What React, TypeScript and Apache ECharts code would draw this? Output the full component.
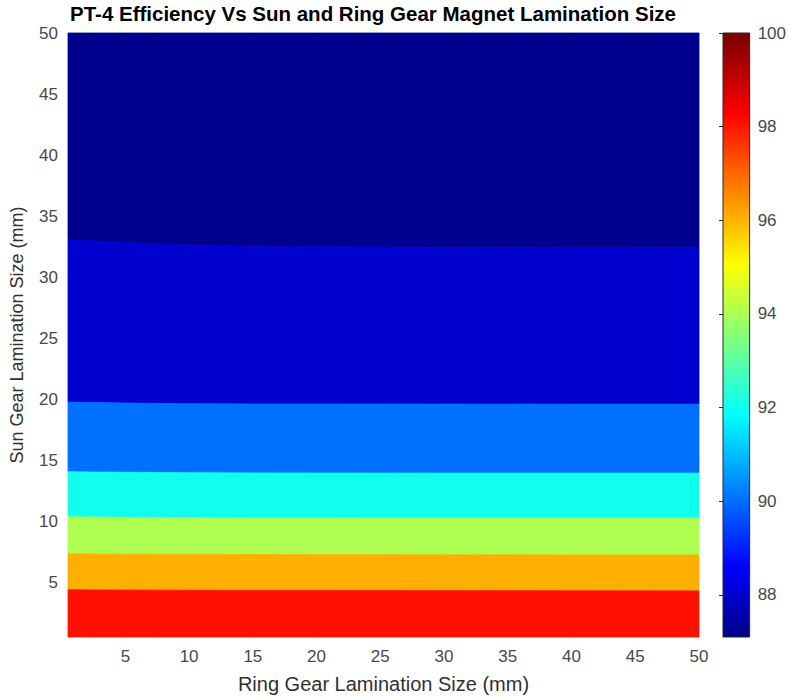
import { useEffect, useRef } from 'react';
import * as echarts from 'echarts';

// Ring gear lamination size (mm) at which each contour line is sampled
const ringSizes = [0.5, 2.5, 5, 7.5, 10, 15, 20, 30, 40, 50];
// Efficiency contour levels (%)
const contourLevels = [88, 90, 92, 94, 96, 98];
// Sun gear lamination size (mm) where each contour level is crossed
const sunAt88 = [33.05, 32.95, 32.82, 32.7, 32.62, 32.53, 32.48, 32.44, 32.42, 32.4];
const sunAt90 = [19.75, 19.71, 19.67, 19.64, 19.62, 19.6, 19.6, 19.59, 19.58, 19.58];
const sunAt92 = [14.05, 14.02, 14.0, 13.98, 13.96, 13.95, 13.94, 13.93, 13.93, 13.93];
const sunAt94 = [10.35, 10.33, 10.31, 10.3, 10.29, 10.28, 10.27, 10.26, 10.25, 10.25];
const sunAt96 = [7.32, 7.3, 7.29, 7.28, 7.27, 7.26, 7.25, 7.24, 7.23, 7.22];
const sunAt98 = [4.38, 4.36, 4.35, 4.34, 4.33, 4.32, 4.31, 4.3, 4.29, 4.28];
const contourLines = [sunAt88, sunAt90, sunAt92, sunAt94, sunAt96, sunAt98];

// Data extents
const ringRange = [0.5, 50];
const sunRange = [0.5, 50];
const efficiencyRange = [87.1, 100];

// Tick labels
const sizeTicks = [5, 10, 15, 20, 25, 30, 35, 40, 45, 50];
const colorbarTicks = [88, 90, 92, 94, 96, 98, 100];

const FONT = '"Liberation Sans", Arial, Helvetica, sans-serif';

// MATLAB jet(64) colormap row (1-based)
function jetRow(i: number): [number, number, number] {
  const u = (j: number) => {
    if (j < 1 || j > 47) return 0;
    if (j <= 16) return j / 16;
    if (j <= 31) return 1;
    return (48 - j) / 16;
  };
  return [u(i - 24), u(i - 8), u(i + 8)];
}

function toHex(rgb: [number, number, number]): string {
  return '#' + rgb.map((c) => Math.round(c * 255).toString(16).padStart(2, '0')).join('');
}

// Scaled colour lookup as contourf does it
function jetColor(value: number): string {
  const [lo, hi] = efficiencyRange;
  let idx = Math.floor(((value - lo) / (hi - lo)) * 64) + 1;
  idx = Math.max(1, Math.min(64, idx));
  return toHex(jetRow(idx));
}

export default function App() {
  const ref = useRef<HTMLDivElement>(null);

  useEffect(() => {
    if (!ref.current) return;
    const chart = echarts.init(ref.current, undefined, { renderer: 'svg' });

    const bandCount = contourLevels.length + 1;
    const bandData = Array.from({ length: bandCount }, (_, k) => [k]);

    const colorStops = [];
    for (let i = 64; i >= 1; i--) {
      colorStops.push({ offset: (64 - i + 0.5) / 64, color: toHex(jetRow(i)) });
    }

    const option = {
      animation: false,
      backgroundColor: '#ffffff',
      graphic: [
        {
          type: 'text',
          x: 373,
          y: 13,
          style: {
            text: 'PT-4 Efficiency Vs Sun and Ring Gear Magnet Lamination Size',
            font: `bold 20.5px ${FONT}`,
            fill: '#000000',
            textAlign: 'center',
            textVerticalAlign: 'middle',
            align: 'center',
            verticalAlign: 'middle',
          },
        },
      ],
      grid: [
        { left: 67, top: 33, width: 632, height: 604 },
        { left: 723, top: 33, width: 30, height: 604 },
      ],
      xAxis: [
        {
          type: 'value',
          gridIndex: 0,
          min: ringRange[0],
          max: ringRange[1],
          axisLine: { show: false },
          axisTick: { show: false },
          splitLine: { show: false },
          axisLabel: {
            customValues: sizeTicks,
            margin: 11,
            fontSize: 17,
            fontFamily: FONT,
            color: '#484848',
          },
          name: 'Ring Gear Lamination Size (mm)',
          nameLocation: 'middle',
          nameGap: 37,
          nameTextStyle: { fontSize: 20, fontFamily: FONT, color: '#303030' },
        },
        {
          type: 'value',
          gridIndex: 1,
          min: 0,
          max: 1,
          show: false,
        },
      ],
      yAxis: [
        {
          type: 'value',
          gridIndex: 0,
          min: sunRange[0],
          max: sunRange[1],
          axisLine: { show: false },
          axisTick: { show: false },
          splitLine: { show: false },
          axisLabel: {
            customValues: sizeTicks,
            margin: 10,
            fontSize: 17,
            fontFamily: FONT,
            color: '#484848',
          },
          name: 'Sun Gear Lamination Size (mm)',
          nameLocation: 'middle',
          nameGap: 42,
          nameTextStyle: { fontSize: 18, fontFamily: FONT, color: '#303030' },
        },
        {
          type: 'value',
          gridIndex: 1,
          position: 'right',
          min: efficiencyRange[0],
          max: efficiencyRange[1],
          axisLine: { show: false },
          splitLine: { show: false },
          axisTick: {
            show: true,
            inside: true,
            length: 4,
            customValues: colorbarTicks,
            lineStyle: { color: '#262626', width: 1 },
          },
          axisLabel: {
            customValues: colorbarTicks,
            margin: 8,
            fontSize: 17,
            fontFamily: FONT,
            color: '#484848',
          },
        },
      ],
      series: [
        {
          type: 'custom',
          xAxisIndex: 0,
          yAxisIndex: 0,
          data: bandData,
          renderItem: (_params: any, api: any) => {
            const k = api.value(0);
            const upper = k === 0 ? ringSizes.map(() => sunRange[1]) : contourLines[k - 1];
            const lower = k === bandCount - 1 ? ringSizes.map(() => sunRange[0]) : contourLines[k];
            const pts: number[][] = [];
            ringSizes.forEach((x, i) => pts.push(api.coord([x, upper[i]])));
            for (let i = ringSizes.length - 1; i >= 0; i--) {
              pts.push(api.coord([ringSizes[i], lower[i]]));
            }
            const color = jetColor(k === 0 ? efficiencyRange[0] : contourLevels[k - 1]);
            return {
              type: 'polygon',
              shape: { points: pts },
              style: { fill: color, stroke: color, lineWidth: 0.8 },
            };
          },
        },
        {
          type: 'custom',
          xAxisIndex: 1,
          yAxisIndex: 1,
          data: [[0]],
          renderItem: (_params: any, api: any) => {
            const p0 = api.coord([0, efficiencyRange[1]]);
            const p1 = api.coord([1, efficiencyRange[0]]);
            return {
              type: 'rect',
              shape: { x: p0[0], y: p0[1], width: p1[0] - p0[0], height: p1[1] - p0[1] },
              style: {
                fill: new echarts.graphic.LinearGradient(0, 0, 0, 1, colorStops),
                stroke: '#262626',
                lineWidth: 1,
              },
            };
          },
        },
      ],
    };

    chart.setOption(option as any);
    return () => chart.dispose();
  }, []);

  return (
    <div
      ref={ref}
      style={{ position: 'absolute', left: 0, top: 0, width: 789, height: 700, background: '#fff' }}
    />
  );
}
